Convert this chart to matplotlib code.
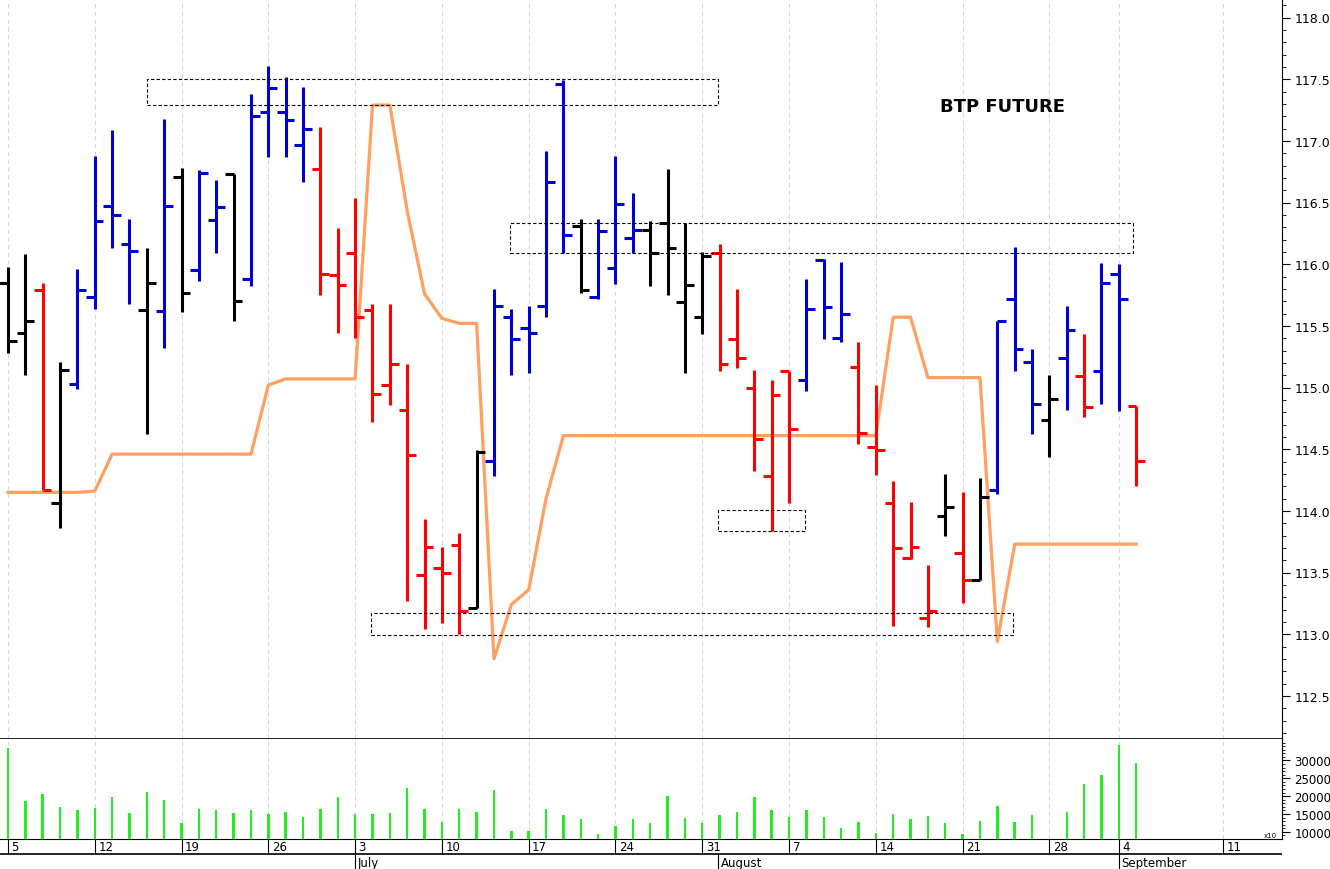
import matplotlib
matplotlib.use("Agg")
import matplotlib.pyplot as plt
import numpy as np

opens  = [115.85,115.44,115.79,114.06,115.03,115.73,116.47,116.16,115.63,115.62,
          116.71,115.95,116.36,116.73,115.88,117.23,117.23,116.97,116.77,115.91,
          116.09,115.63,115.02,114.82,113.48,113.54,113.72,113.21,114.40,115.57,
          115.48,115.66,117.46,116.31,115.73,115.97,116.21,116.28,116.33,115.69,
          115.57,116.09,115.39,115.00,114.28,115.13,115.06,116.03,115.40,115.17,
          114.52,114.06,113.62,113.13,113.96,113.66,113.44,114.17,115.72,115.21,
          114.74,115.24,115.09,115.13,115.92,114.85]
highs  = [115.98,116.08,115.85,115.21,115.96,116.88,117.09,116.37,116.13,117.18,
          116.78,116.76,116.68,116.73,117.38,117.61,117.52,117.44,117.11,116.29,
          116.54,115.68,115.68,115.19,113.93,113.71,113.82,114.49,115.80,115.64,
          115.66,116.92,117.49,116.37,116.37,116.88,116.58,116.35,116.77,116.33,
          116.10,116.16,115.80,115.14,115.06,115.13,115.88,116.04,116.02,115.37,
          115.02,114.24,114.07,113.56,114.30,114.15,114.27,115.54,116.14,115.31,
          115.10,115.66,115.43,116.01,116.00,114.85]
lows   = [115.28,115.10,114.17,113.86,114.99,115.64,116.13,115.68,114.62,115.32,
          115.61,115.86,116.09,115.54,115.82,116.87,116.87,116.67,115.75,115.44,
          115.40,114.72,114.86,113.27,113.04,113.09,113.00,113.21,114.28,115.10,
          115.12,115.57,116.09,115.77,115.72,115.84,116.09,115.82,115.75,115.12,
          115.43,115.13,115.16,114.32,113.84,114.06,114.97,115.39,115.37,114.54,
          114.29,113.07,113.61,113.06,113.80,113.25,113.44,114.14,115.13,114.62,
          114.44,114.82,114.76,114.87,114.81,114.20]
closes = [115.38,115.54,114.17,115.14,115.79,116.35,116.40,116.11,115.85,116.47,
          115.77,116.74,116.46,115.70,117.20,117.43,117.17,117.10,115.92,115.83,
          115.57,114.95,115.19,114.45,113.71,113.50,113.19,114.48,115.66,115.39,
          115.44,116.67,116.24,115.79,116.27,116.49,116.28,116.09,116.13,115.83,
          116.07,115.19,115.24,114.58,114.94,114.66,115.64,115.65,115.60,114.63,
          114.49,113.70,113.71,113.19,114.03,113.44,114.11,115.54,115.31,114.87,
          114.91,115.47,114.84,115.85,115.72,114.40]
bar_colors = (["k","k","r","k","b","b","b","b","k","b",
               "k","b","b","k","b","b","b","b","r","r",
               "r","r","r","r","r","r","r","k","b","b",
               "b","b","b","k","b","b","b","k","k","k",
               "k","r","r","r","r","r","b","b","b","r",
               "r","r","r","r","k","r","k","b","b","b",
               "k","b","r","b","b","r"])
volumes = [33400,18600,20500,17100,16200,16700,19700,15400,21100,18800,
           12600,16500,16000,15200,16200,15000,15600,14100,16500,19900,
           15000,15000,15400,22200,16500,12900,16500,15600,21700,10300,
           10300,16500,14800,13500,9500,11600,13700,12600,20100,13900,
           12600,14800,15600,19900,16200,14300,16000,14300,11200,12800,
           9700,15000,13700,14400,12600,9300,13100,17300,12800,14800,
           0,15600,23500,25800,34300,29400]
stop_line = [114.15,114.15,114.15,114.15,114.15,114.16,114.46,114.46,114.46,114.46,
             114.46,114.46,114.46,114.46,114.46,115.02,115.07,115.07,115.07,115.07,
             115.07,117.29,117.29,116.43,115.76,115.56,115.52,115.52,112.80,113.24,
             113.36,114.10,114.61,114.61,114.61,114.61,114.61,114.61,114.61,114.61,
             114.61,114.61,114.61,114.61,114.61,114.61,114.61,114.61,114.61,114.61,
             114.61,115.57,115.57,115.08,115.08,115.08,115.08,112.94,113.73,113.73,
             113.73,113.73,113.73,113.73,113.73,113.73]
# annotation boxes: (x0, x1, y0, y1) in bar index / price
boxes = [(8.0, 40.9, 117.29, 117.50), (28.9, 64.8, 116.09, 116.33),
         (40.9, 45.9, 113.84, 114.01), (20.9, 57.9, 112.99, 113.17)]
day_pos = [0,5,10,15,20,25,30,35,40,45,50,55,60,64,70]
day_labels = ["5","12","19","26","3","10","17","24","31","7","14","21","28","4","11"]
month_pos = [20, 40.9, 64]
month_labels = ["July","August","September"]

cmap = {"k":"#000000","r":"#ff0000","b":"#0000d0"}
W, H = 1330, 870
fig = plt.figure(figsize=(13.3, 8.7), dpi=100)
xl = (-0.46, 73.4)
ax = fig.add_axes([0, 1-740/H, 1282/W, 740/H])
av = fig.add_axes([0, 1-840/H, 1282/W, 100/H])
ad = fig.add_axes([0, 0, 1282/W, 30/H])
ax.set_xlim(*xl); av.set_xlim(*xl); ad.set_xlim(*xl)
ax.set_ylim(112.15, 118.15)

x = np.arange(len(opens))
for g in day_pos:
    ax.axvline(g, color="#d8d8d8", lw=0.8, ls=(0, (4, 3)), zorder=0)
    av.axvline(g, color="#d8d8d8", lw=0.8, ls=(0, (4, 3)), zorder=0)
for i in x:
    c = cmap[bar_colors[i]]
    ax.vlines(i, lows[i], highs[i], color=c, lw=2.2, zorder=3)
    ax.hlines(opens[i], i-0.5, i, color=c, lw=2.2, zorder=3)
    ax.hlines(closes[i], i, i+0.5, color=c, lw=2.2, zorder=3)
ax.plot(x, stop_line, color="#ffa060", lw=2.3, zorder=2)
for (a, b, c0, c1) in boxes:
    ax.add_patch(plt.Rectangle((a, c0), b-a, c1-c0, fill=False, ec="k",
                               lw=0.8, ls=(0, (3, 2)), zorder=4))
ax.text(57.3, 117.28, "BTP FUTURE", fontsize=13, fontweight="bold",
        ha="center", va="center", family="DejaVu Sans")

ax.yaxis.tick_right()
ax.set_yticks(np.arange(112.5, 118.01, 0.5))
ax.set_yticks(np.arange(112.2, 118.15, 0.1), minor=True)
ax.set_yticklabels([f"{v:.1f}" for v in np.arange(112.5, 118.01, 0.5)])
ax.tick_params(axis="y", which="major", length=6, labelsize=9, pad=3)
ax.tick_params(axis="y", which="minor", length=3)
ax.set_xticks([])
for s in ["top", "left"]:
    ax.spines[s].set_visible(False)
ax.spines["bottom"].set_linewidth(1.2)

av.bar(x, volumes, width=0.14, color="#22ee22", zorder=3)
av.set_ylim(8000, 36000)
av.yaxis.tick_right()
av.set_yticks([10000, 15000, 20000, 25000, 30000])
av.set_yticks(np.arange(9000, 36000, 1000), minor=True)
av.tick_params(axis="y", which="major", length=6, labelsize=8.5, pad=3)
av.tick_params(axis="y", which="minor", length=2)
av.set_xticks([])
for s in ["top", "left"]:
    av.spines[s].set_visible(False)
av.text(73.1, 8300, "x10", fontsize=5, va="bottom", ha="right")

ad.set_ylim(0, 1)
ad.axis("off")
ad.axhline(0.5, color="k", lw=1.2)
ad.axhline(1.0, color="k", lw=1.2)
for p, l in zip(day_pos, day_labels):
    ad.vlines(p, 0.5, 1.0, color="k", lw=0.8)
    ad.text(p+0.2, 0.75, l, fontsize=8.5, va="center", ha="left")
for p, l in zip(month_pos, month_labels):
    ad.vlines(p, 0.0, 0.5, color="k", lw=0.8)
    ad.text(p+0.15, 0.22, l, fontsize=8.5, va="center", ha="left")

fig.savefig("out.png", dpi=100)
